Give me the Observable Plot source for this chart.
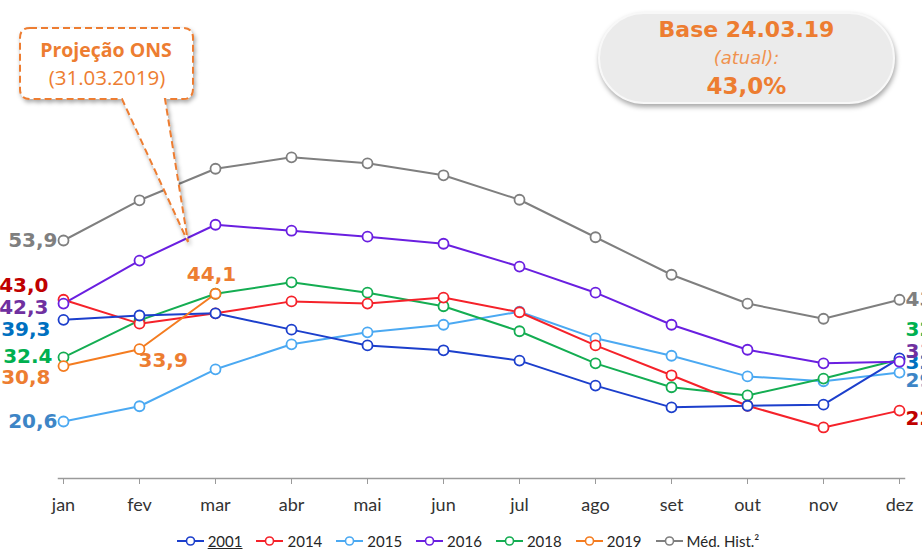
<!DOCTYPE html>
<html>
<head>
<meta charset="utf-8">
<script src="https://cdn.jsdelivr.net/npm/d3@7"></script>
<script src="https://cdn.jsdelivr.net/npm/@observablehq/plot@0.6"></script>
<style>
  html, body { margin: 0; padding: 0; background: white; overflow: hidden; }
  #wrap { position: relative; width: 922px; height: 552px; }
  #chart svg { display: block; overflow: hidden; }
  #chart g[aria-label="x-axis tick label"] { font-size: 18px !important; font-family: Lato, sans-serif; }
  #legend { position: absolute; left: 0; top: 530px; width: 922px; height: 22px;
    display: flex; justify-content: center; padding-left: 26px; box-sizing: border-box;
    font-family: Lato, "Open Sans", sans-serif; font-size: 15px; color: #262626; }
  .item { display: flex; align-items: center; margin-right: 13px; }
  .item svg { margin-right: 3px; }
  #base { position: absolute; left: 598px; top: 12px; width: 293px; height: 88px;
    border-radius: 46px; background: #ebebeb; border: 2px solid #f8f8f8;
    box-shadow: 1px 3px 5px rgba(0,0,0,0.35);
    font-family: "DejaVu Sans", Verdana, sans-serif; color: #ed7d31; text-align: center; }
  #base .b1 { position: absolute; left: 0; width: 100%; top: 3px; font-weight: bold; font-size: 22px; }
  #base .b2 { position: absolute; left: 0; width: 100%; top: 33px; font-style: italic; font-size: 18px; color: #f0924f; }
  #base .b3 { position: absolute; left: 0; width: 100%; top: 59px; font-weight: bold; font-size: 23px; }
  #overlay { position: absolute; left: 0; top: 0; pointer-events: none; }
</style>
</head>
<body>
<div id="wrap">
  <div id="chart"></div>
  <svg id="overlay" width="922" height="300"></svg>
  <div id="base"><div class="b1">Base 24.03.19</div><div class="b2">(atual):</div><div class="b3">43,0%</div></div>
  <div id="legend"></div>
</div>
<script>
// ---------- data ----------
const months = ["jan","fev","mar","abr","mai","jun","jul","ago","set","out","nov","dez"];
const s2001 = [39.3,40.1,40.5,37.5,34.6,33.7,31.8,27.2,23.2,23.5,23.7,32.2];
const s2014 = [43.0,38.6,40.5,42.7,42.3,43.4,40.7,34.6,29.1,23.5,19.5,22.6];
const s2015 = [20.6,23.4,30.2,34.8,37.0,38.4,40.8,35.9,32.7,28.9,28.0,29.6];
const s2016 = [42.3,50.2,56.8,55.7,54.6,53.3,49.1,44.3,38.4,33.8,31.3,31.6];
const s2018 = [32.4,39.2,44.1,46.2,44.3,41.8,37.2,31.3,26.9,25.4,28.5,32.0];
const s2019 = [30.8,33.9,44.1];
const sMedia = [53.9,61.3,67.1,69.2,68.1,65.9,61.4,54.5,47.6,42.3,39.5,43.0];
const seriesNames = ["2001","2014","2015","2016","2018","2019","Méd. Hist.²"];
const seriesColors = ["#1c3fcc","#f5222a","#4ba9f2","#6a1fe0","#14ad52","#f47c20","#7f7f7f"];
// labels at January (start) and December (end) and 2019 projection, in seriesNames order
const startLabels = ["39,3","43,0","20,6","42,3","32.4","30,8","53,9"];
const endLabels   = ["32,2","22,6","29,6","31,6","32,0","","43,0"];
const projLabels  = ["30,8","33,9","44,1"];
const calloutTitle = "Projeção ONS";
const calloutDate = "(31.03.2019)";

const seriesValues = {"2001": s2001, "2014": s2014, "2015": s2015, "2016": s2016, "2018": s2018, "2019": s2019, "Méd. Hist.²": sMedia};
const drawOrder = ["Méd. Hist.²","2015","2018","2014","2001","2016","2019"];
const table = drawOrder.flatMap(s => seriesValues[s].map((v, i) => ({series: s, month: months[i], value: v})));

// ---------- styles ----------
const labelColors = {"2001":"#0070c0","2014":"#c00000","2015":"#3d85c6","2016":"#7030a0","2018":"#00b050","2019":"#ed7d31","Méd. Hist.²":"#7f7f7f"};
const startOffsets = {"Méd. Hist.²":[-6,0],"2014":[-15,-14],"2016":[-15,4],"2001":[-13,10],"2018":[-11,-1],"2019":[-13,12],"2015":[-6,0]};
const endOffsets = {"Méd. Hist.²":[6,0],"2018":[6,-30],"2016":[6,-10],"2001":[6,4],"2015":[6,8],"2014":[6,8]};
const labelFont = {fontFamily: "'DejaVu Sans', Verdana, sans-serif", fontWeight: "bold", fontSize: 20};

const yLow = 10.11, yHigh = 98.06;

const marks = [
  Plot.frame({anchor: "bottom", stroke: "#9a9a9a", strokeWidth: 1.5}),
  Plot.axisX({tickSize: 6, tickPadding: 14, stroke: "#9a9a9a", fill: "#333", fontSize: 18, label: null}),
  Plot.line(table, {x: "month", y: "value", z: "series", stroke: "series", strokeWidth: 2}),
  Plot.dot(table, {x: "month", y: "value", stroke: "series", fill: "white", r: 5, strokeWidth: 1.8})
];

seriesNames.forEach((s, k) => {
  const vals = seriesValues[s];
  const o = startOffsets[s];
  marks.push(Plot.text([{month: months[0], value: vals[0], t: startLabels[k]}],
    {x: "month", y: "value", text: "t", textAnchor: "end", dx: o[0], dy: o[1], fill: labelColors[s], ...labelFont}));
  const e = endOffsets[s];
  if (e && endLabels[k]) {
    const last = vals.length - 1;
    marks.push(Plot.text([{month: months[last], value: vals[last], t: endLabels[k]}],
      {x: "month", y: "value", text: "t", textAnchor: "start", dx: e[0], dy: e[1], fill: labelColors[s], ...labelFont}));
  }
});
// 2019 projection labels (fev, mar)
marks.push(Plot.text([{month: months[1], value: s2019[1], t: projLabels[1]}],
  {x: "month", y: "value", text: "t", textAnchor: "start", dx: -1, dy: 11, fill: "#ed7d31", ...labelFont}));
marks.push(Plot.text([{month: months[2], value: s2019[2], t: projLabels[2]}],
  {x: "month", y: "value", text: "t", textAnchor: "middle", dx: -4, dy: -19, fill: "#ed7d31", ...labelFont}));

const chart = Plot.plot({
  width: 922, height: 522,
  marginLeft: 58, marginRight: 18, marginTop: 0, marginBottom: 44,
  x: {type: "point", domain: months, padding: 0, axis: null},
  y: {domain: [yLow, yHigh], axis: null},
  color: {domain: seriesNames, range: seriesColors},
  style: {fontFamily: "Lato, 'Open Sans', sans-serif", fontSize: "18px", background: "white", overflow: "hidden"},
  marks
});
document.getElementById("chart").appendChild(chart);

// ---------- callout ----------
const ov = d3.select("#overlay");
const defs = ov.append("defs");
const f = defs.append("filter").attr("id", "sh").attr("x", "-20%").attr("y", "-20%").attr("width", "140%").attr("height", "140%");
f.append("feDropShadow").attr("dx", 1.5).attr("dy", 2.5).attr("stdDeviation", 2).attr("flood-color", "#000").attr("flood-opacity", 0.35);
ov.append("path")
  .attr("d", "M30,28 H183 Q193,28 193,38 V89 Q193,99 183,99 H165 L188,242 L122,99 H30 Q20,99 20,89 V38 Q20,28 30,28 Z")
  .attr("fill", "white").attr("stroke", "#ed7d31").attr("stroke-width", 2).attr("stroke-dasharray", "7,4")
  .attr("filter", "url(#sh)");
ov.append("text").attr("x", 106).attr("y", 57).attr("text-anchor", "middle")
  .attr("font-family", "'Open Sans', Lato, sans-serif").attr("font-weight", "bold").attr("font-size", 19.5)
  .attr("fill", "#ed7d31").text(calloutTitle);
ov.append("text").attr("x", 107).attr("y", 85).attr("text-anchor", "middle")
  .attr("font-family", "'Open Sans', Lato, sans-serif").attr("font-size", 20.5)
  .attr("fill", "#ed7d31").text(calloutDate);

// ---------- legend ----------
const leg = document.getElementById("legend");
seriesNames.forEach((s, k) => {
  const it = document.createElement("div");
  it.className = "item";
  it.innerHTML = `<svg width="29" height="12"><line x1="1" x2="28" y1="6" y2="6" stroke="${seriesColors[k]}" stroke-width="2"/><circle cx="14.5" cy="6" r="4" fill="white" stroke="${seriesColors[k]}" stroke-width="1.6"/></svg><span style="${k===0?'text-decoration:underline;':''}">${s}</span>`;
  leg.appendChild(it);
});
</script>
</body>
</html>
